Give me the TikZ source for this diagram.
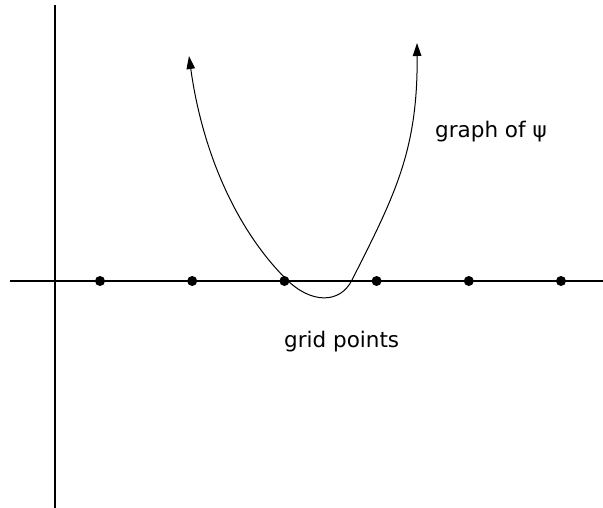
\documentclass[tikz,border=0pt]{standalone}
\usepackage{fontspec}
\setmainfont{DejaVu Sans}
\usetikzlibrary{arrows.meta}
\tikzset{
  axis/.style={line width=2.3pt},
  gridpt/.style={circle,fill=black,inner sep=0pt,minimum size=10pt},
  curve/.style={line width=1pt,{Triangle[length=13pt,width=8.5pt]}-{Triangle[length=13pt,width=8.5pt]}},
  label/.style={inner sep=0pt,font=\fontsize{21.5}{25}\selectfont}
}
\begin{document}
\begin{tikzpicture}[x=1pt,y=-1pt]
\useasboundingbox (0,0) rectangle (603,508);
\coordinate (vtop) at (55,5);
\coordinate (vbot) at (55,508);
\coordinate (hl) at (10,281);
\coordinate (hr) at (603,281);
\draw[axis] (vtop) -- (vbot);
\draw[axis] (hl) -- (hr);
\foreach \i/\x in {1/100,2/192.2,3/284.4,4/376.6,5/468.8,6/561}
  \node[gridpt] (g\i) at (\x,281) {};
\coordinate (ltip) at (189,56);
\coordinate (cross1) at (286,279);
\coordinate (cross2) at (352,280);
\coordinate (rtip) at (417,43);
\draw[curve] (ltip) .. controls (202,150) and (235,228) .. (cross1)
  .. controls (311,304) and (340,304) .. (cross2)
  .. controls (395,195) and (418,150) .. (rtip);
\node[label,anchor=base west] (psi) at (435,138) {graph of ψ};
\node[label,anchor=base west] (grid) at (284,347) {grid points};
\end{tikzpicture}
\end{document}
